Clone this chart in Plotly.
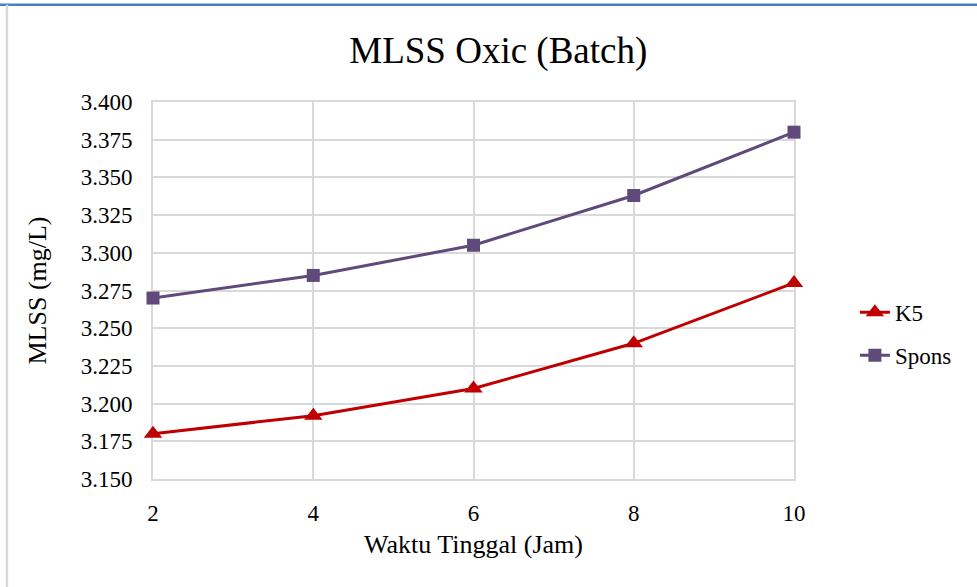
import plotly.graph_objects as go

# Waktu tinggal (jam) and MLSS readings
waktu = [2, 4, 6, 8, 10]
mlss_k5 = [3.180, 3.192, 3.210, 3.240, 3.280]
mlss_spons = [3.270, 3.285, 3.305, 3.338, 3.380]
y_ticks = [3.150, 3.175, 3.200, 3.225, 3.250, 3.275, 3.300, 3.325, 3.350, 3.375, 3.400]

FONT = "Liberation Serif, Times New Roman, serif"

fig = go.Figure()
fig.add_trace(go.Scatter(
    x=waktu, y=mlss_k5, name="K5", mode="lines+markers", legendgroup="k5",
    line=dict(color="#C00000", width=3), cliponaxis=False,
    marker=dict(symbol="triangle-up", size=16, color="#C00000"),
))
fig.add_trace(go.Scatter(
    x=waktu, y=mlss_spons, name="Spons", mode="lines+markers", legendgroup="spons",
    line=dict(color="#604A7B", width=3), cliponaxis=False,
    marker=dict(symbol="square", size=13, color="#604A7B"),
))

fig.update_layout(
    width=977, height=587,
    paper_bgcolor="white", plot_bgcolor="white",
    margin=dict(l=153, r=183, t=102, b=108),
    font=dict(family=FONT, color="black", size=23),
    title=dict(text="MLSS Oxic (Batch)", x=0.51, xanchor="center",
               y=0.915, yanchor="middle", font=dict(size=37, family=FONT)),
    xaxis=dict(
        range=[2, 10], tickvals=waktu, ticktext=[str(v) for v in waktu],
        tickfont=dict(family=FONT, size=23), layer="below traces",
        showgrid=True, gridcolor="#D9D9D9", gridwidth=2,
        showline=True, linecolor="#D9D9D9", linewidth=2, mirror=True,
        zeroline=False, ticks="", ticklabelstandoff=12,
        title=dict(text="Waktu Tinggal (Jam)", font=dict(size=26, family=FONT), standoff=10),
    ),
    yaxis=dict(
        range=[3.150, 3.400], tickvals=y_ticks,
        ticktext=[f"{v:.3f}" for v in y_ticks],
        tickfont=dict(family=FONT, size=23), layer="below traces",
        showgrid=True, gridcolor="#D9D9D9", gridwidth=2,
        showline=True, linecolor="#D9D9D9", linewidth=2, mirror=True,
        zeroline=False, ticks="", ticklabelstandoff=14,
        title=dict(text="MLSS (mg/L)", font=dict(size=26, family=FONT), standoff=27),
    ),
    legend=dict(x=1.095, y=0.385, xanchor="left", yanchor="middle",
                font=dict(size=23, family=FONT), tracegroupgap=10,
                bgcolor="rgba(0,0,0,0)"),
    showlegend=True,
)

# chart frame edges
fig.add_shape(type="line", xref="paper", yref="paper",
              x0=-0.25, x1=1.3, y0=1.258, y1=1.258,
              line=dict(color="#4A7EC8", width=2.5))
fig.add_shape(type="line", xref="paper", yref="paper",
              x0=-0.2278, x1=-0.2278, y0=-0.3, y1=1.258,
              line=dict(color="#D9D9D9", width=2.5))

fig.write_html("out.html")
